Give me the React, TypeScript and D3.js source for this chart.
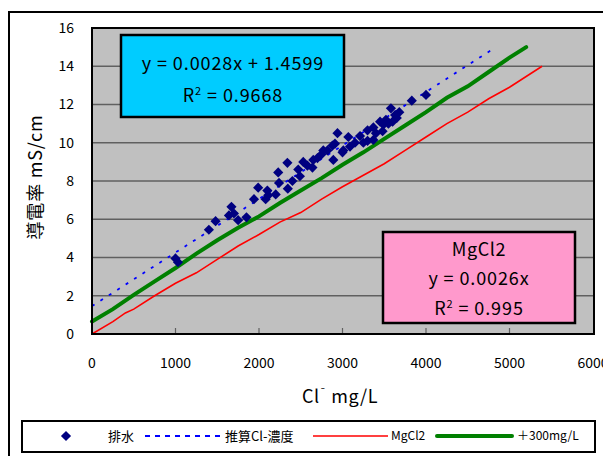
import React from "react";
import * as d3 from "d3";

const xTicks = [0, 1000, 2000, 3000, 4000, 5000, 6000];
const yTicks = [0, 2, 4, 6, 8, 10, 12, 14, 16];

// 排水 scatter (Cl- mg/L, mS/cm)
const drainX = [1000, 1030, 1400, 1480, 1640, 1670, 1750, 1850, 1940, 1990, 2080, 2100, 2110, 2230, 2240, 2340, 2345, 2400, 2470, 2490, 2530, 2640, 2650, 2750, 2770, 2880, 2890, 2940, 3000, 2910, 3010, 3070, 3090, 3210, 3250, 3300, 3370, 3370, 3300, 3450, 3490, 3580, 3630, 3830, 4000, 3550, 3600, 3400, 2820, 2700, 2580, 2200, 1700, 3150, 3680, 3480, 3650, 3520];
const drainY = [3.95, 3.75, 5.45, 5.9, 6.2, 6.65, 5.95, 6.1, 7.05, 7.65, 7.05, 7.5, 7.25, 8.45, 7.9, 8.95, 7.6, 8.0, 8.6, 8.25, 9.0, 8.7, 9.1, 9.4, 9.6, 9.85, 9.1, 10.5, 9.5, 9.95, 9.6, 10.3, 9.8, 10.35, 10.0, 10.65, 10.8, 10.15, 10.1, 11.1, 10.95, 11.8, 11.45, 12.2, 12.5, 11.0, 11.1, 10.5, 9.6, 9.2, 8.8, 7.3, 6.3, 10.0, 11.6, 10.6, 11.3, 11.2];

// 推算Cl-濃度 trendline endpoints
const trendX = [0, 4830];
const trendY = [1.46, 14.98];

// MgCl2 line
const mgX = [0, 250, 400, 500, 750, 1000, 1250, 1500, 1750, 2000, 2250, 2500, 2750, 3000, 3250, 3500, 3750, 4000, 4250, 4500, 4750, 5000, 5390];
const mgY = [0, 0.65, 1.1, 1.3, 2.0, 2.65, 3.2, 3.9, 4.6, 5.2, 5.85, 6.35, 7.05, 7.7, 8.3, 8.9, 9.6, 10.3, 11.0, 11.6, 12.3, 12.9, 14.0];

// +300mg/L line
const plusX = [0, 250, 500, 750, 1000, 1250, 1500, 1750, 2000, 2250, 2500, 2750, 3000, 3250, 3500, 3750, 4000, 4250, 4500, 4750, 5000, 5200];
const plusY = [0.65, 1.3, 2.05, 2.75, 3.45, 4.2, 4.9, 5.55, 6.15, 6.85, 7.5, 8.15, 8.85, 9.5, 10.2, 10.9, 11.6, 12.35, 12.95, 13.7, 14.45, 15.0];

const FONT = "'Noto Sans CJK JP', 'Noto Sans', sans-serif";

export default function App() {
  const L = 92, R = 593, T = 28, B = 334;
  const x = d3.scaleLinear().domain([0, 6000]).range([L, R]);
  const y = d3.scaleLinear().domain([0, 16]).range([B, T]);
  const line = d3.line<[number, number]>().x(d => x(d[0])).y(d => y(d[1]));
  const zip = (a: number[], b: number[]) => a.map((v, i) => [v, b[i]] as [number, number]);
  const diamond = d3.symbol().type(d3.symbolDiamond2).size(66)();

  return (
    <svg width={603} height={456} style={{ position: "absolute", left: 0, top: 0, fontFamily: FONT }}>
      <rect x={0} y={0} width={603} height={456} fill="#fff" />
      <rect x={9} y={12} width={620} height={470} fill="#fff" stroke="#000" strokeWidth={2} />
      {/* plot area */}
      <rect x={L} y={T} width={R - L + 1} height={B - T} fill="#C0C0C0" />
      {yTicks.filter(t => t > 0 && t < 16).map(t => (
        <line key={t} x1={L} x2={R} y1={y(t)} y2={y(t)} stroke="#606060" strokeWidth={1.5} />
      ))}
      {xTicks.filter(t => t > 0 && t < 6000).map(t => (
        <line key={t} x1={x(t)} x2={x(t)} y1={B} y2={B - 6} stroke="#606060" strokeWidth={1.2} />
      ))}
      {/* lines */}
      <path d={line(zip(mgX, mgY)) || ""} fill="none" stroke="#FF0000" strokeWidth={1.6} />
      <path d={line(zip(plusX, plusY)) || ""} fill="none" stroke="#008000" strokeWidth={4} strokeLinecap="round" />
      <path d={line(zip(trendX, trendY)) || ""} fill="none" stroke="#0000FF" strokeWidth={1.8} strokeDasharray="3,7" />
      {drainX.map((v, i) => (
        <path key={i} d={diamond || ""} transform={`translate(${x(v)},${y(drainY[i])})`} fill="#000080" />
      ))}
      {/* plot border */}
      <rect x={L} y={T} width={R - L + 1} height={B - T} fill="none" stroke="#000" strokeWidth={2} />
      {/* tick labels */}
      {yTicks.map(t => (
        <text key={t} x={74} y={y(t)} dy="0.35em" textAnchor="end" fontSize={14} fill="#000">{t}</text>
      ))}
      {xTicks.map(t => (
        <text key={t} x={x(t)} y={363} dy="0.35em" textAnchor="middle" fontSize={14} fill="#000">{t}</text>
      ))}
      {/* axis titles */}
      <text x={302} y={397} dy="0.35em" fontSize={18} fill="#000" letterSpacing={0.5}>
        Cl<tspan dy="-7" fontSize={11}>¯</tspan><tspan dy="7">  mg/L</tspan>
      </text>
      <text transform="translate(36,177) rotate(-90)" textAnchor="middle" dy="0.35em" fontSize={18} fill="#000" letterSpacing={0.8}>導電率 mS/cm</text>
      {/* blue equation box */}
      <rect x={121} y={35} width={223} height={82} fill="#00CCFF" stroke="#000" strokeWidth={2.5} />
      <text x={233} y={64} dy="0.35em" textAnchor="middle" fontSize={18} fill="#000" letterSpacing={0.9}>y = 0.0028x + 1.4599</text>
      <text x={233} y={96} dy="0.35em" textAnchor="middle" fontSize={18} fill="#000" letterSpacing={0.9}>
        R<tspan dy="-7" fontSize={11}>2</tspan><tspan dy="7"> = 0.9668</tspan>
      </text>
      {/* pink box */}
      <rect x={383} y={232} width={192} height={91} fill="#FF99CC" stroke="#000" strokeWidth={2.5} />
      <text x={479} y={250} dy="0.35em" textAnchor="middle" fontSize={18} fill="#000" letterSpacing={0.6}>MgCl2</text>
      <text x={479} y={279} dy="0.35em" textAnchor="middle" fontSize={18} fill="#000" letterSpacing={0.9}>y = 0.0026x</text>
      <text x={479} y={309} dy="0.35em" textAnchor="middle" fontSize={18} fill="#000" letterSpacing={0.9}>
        R<tspan dy="-7" fontSize={11}>2</tspan><tspan dy="7"> = 0.995</tspan>
      </text>
      {/* legend */}
      <rect x={22} y={421} width={573} height={31} fill="#fff" stroke="#000" strokeWidth={2} />
      <path d={diamond || ""} transform="translate(66,436)" fill="#000080" />
      <text x={108} y={436} dy="0.35em" fontSize={13} fill="#000">排水</text>
      <line x1={145} x2={220} y1={436} y2={436} stroke="#0000FF" strokeWidth={2} strokeDasharray="5,5" />
      <text x={225} y={436} dy="0.35em" fontSize={13} fill="#000">推算Cl-濃度</text>
      <line x1={313} x2={388} y1={436} y2={436} stroke="#FF0000" strokeWidth={1.6} />
      <text x={391} y={436} dy="0.35em" fontSize={12} fill="#000">MgCl2</text>
      <line x1={437} x2={512} y1={436} y2={436} stroke="#008000" strokeWidth={4} strokeLinecap="round" />
      <text x={517} y={436} dy="0.35em" fontSize={12} fill="#000">＋300mg/L</text>
    </svg>
  );
}
